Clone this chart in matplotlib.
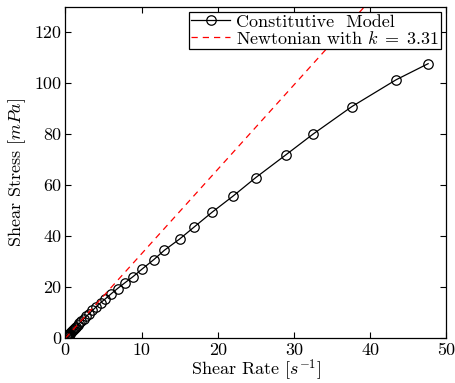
import numpy as np
import matplotlib
matplotlib.use("Agg")
import matplotlib.pyplot as plt

plt.rcParams['font.family'] = ['cmr10', 'DejaVu Serif']
plt.rcParams['mathtext.fontset'] = 'cm'
plt.rcParams['axes.unicode_minus'] = False

# constitutive model: shear rate [1/s] vs shear stress [mPa]
shear_rate = [0.20, 0.23, 0.26, 0.30, 0.34, 0.39, 0.44, 0.50, 0.57, 0.65,
              0.74, 0.84, 0.96, 1.10, 1.25, 1.42, 1.62, 1.85, 2.10, 2.40,
              2.73, 3.12, 3.55, 4.05, 4.62, 5.27, 6.00, 6.85, 7.80, 8.90,
              10.1, 11.6, 13.0, 15.0, 16.9, 19.3, 22.0, 25.0, 28.9, 32.5,
              37.6, 43.4, 47.6]
shear_stress = [0.64, 0.74, 0.84, 0.97, 1.09, 1.26, 1.42, 1.61, 1.83, 2.09,
                2.38, 2.70, 3.08, 3.52, 3.99, 4.52, 5.14, 5.85, 6.62, 7.54,
                8.55, 9.64, 10.9, 12.3, 13.9, 15.5, 17.4, 19.5, 21.7, 24.2,
                27.2, 30.8, 34.5, 38.9, 43.6, 49.5, 55.7, 63.0, 71.8, 80.0,
                90.8, 101.3, 107.6]

# newtonian reference line
k = 3.31
newt_rate = np.array([0.0, 50.0])

fig = plt.figure(figsize=(4.56, 3.83), dpi=100)
ax = fig.add_axes([0.1432, 0.1167, 0.979 - 0.1432, 0.983 - 0.1167])

ax.plot(shear_rate, shear_stress, '-o', color='black', lw=0.9,
        markersize=6.8, markerfacecolor='none', markeredgewidth=0.9,
        label='Constitutive  Model')
ax.plot(newt_rate, k * newt_rate, '--', color='red', lw=0.9,
        dashes=(5, 4), label=r'Newtonian with $k\;=\;%.2f$' % k)

ax.set_xlim(0, 50)
ax.set_ylim(0, 130)
ax.set_xticks([0, 10, 20, 30, 40, 50])
ax.set_yticks([0, 20, 40, 60, 80, 100, 120])
ax.tick_params(direction='in', top=True, right=True, length=4,
               labelsize=13, width=0.8, pad=3)
for s in ax.spines.values():
    s.set_linewidth(0.9)

ax.set_xlabel(r'Shear Rate [$s^{-1}$]', fontsize=13, labelpad=0)
ax.set_ylabel(r'Shear Stress [$mPa$]', fontsize=13, labelpad=4)

leg = ax.legend(loc='upper right', fontsize=13, numpoints=1, fancybox=False,
                framealpha=1, edgecolor='black', borderpad=0.12,
                labelspacing=0.0, handlelength=2.2, handletextpad=0.3,
                borderaxespad=0.3)
leg.get_frame().set_linewidth(0.9)

fig.savefig('out.png', dpi=100)
